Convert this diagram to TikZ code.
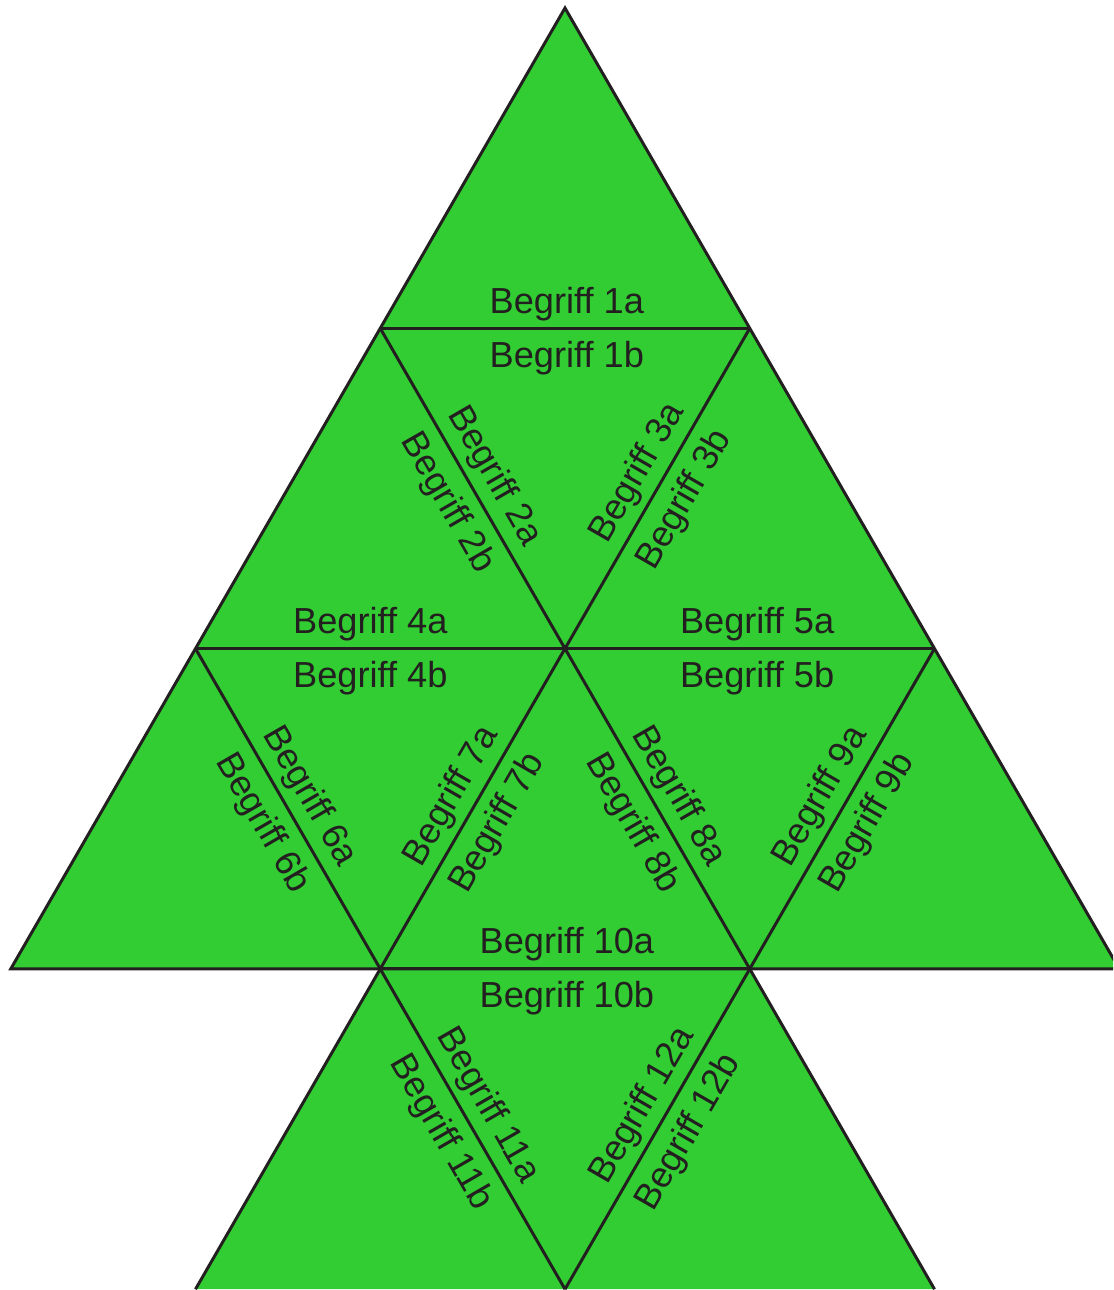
\documentclass[tikz,border=0pt]{standalone}
\usepackage{fontspec}
\setmainfont{Liberation Sans}
\usepackage{xcolor}
\definecolor{treegreen}{RGB}{50,205,50}
\definecolor{inkdark}{RGB}{35,31,32}

\begin{document}
\begin{tikzpicture}[
  edge/.style={draw=inkdark, line width=0.85pt, line join=miter},
  sidelabel/.style={sloped, font=\fontsize{10.3}{12}\selectfont, text=inkdark},
  labela/.style={sidelabel, anchor=south, inner sep=0.06cm},
  labelb/.style={sidelabel, anchor=north, inner sep=0.11cm}
]
  \useasboundingbox (0,0) rectangle (11.13,-12.9);
  \clip (0,0) rectangle (11.13,-12.9);

  % triangle grid corners
  \coordinate (t)   at (5.65,-0.08);
  \coordinate (r1l) at (3.8025,-3.283);
  \coordinate (r1r) at (7.4975,-3.283);
  \coordinate (r2l) at (1.955,-6.486);
  \coordinate (r2m) at (5.65,-6.486);
  \coordinate (r2r) at (9.345,-6.486);
  \coordinate (r3a) at (0.1075,-9.689);
  \coordinate (r3b) at (3.8025,-9.689);
  \coordinate (r3c) at (7.4975,-9.689);
  \coordinate (r3d) at (11.1925,-9.689);
  \coordinate (r4a) at (1.955,-12.892);
  \coordinate (r4b) at (5.65,-12.892);
  \coordinate (r4c) at (9.345,-12.892);

  % filled outline
  \fill[treegreen] (t) -- (r3a) -- (r3d) -- cycle;
  \fill[treegreen] (r3b) -- (r4a) -- (r4c) -- (r3c) -- cycle;
  \draw[edge] (t) -- (r3a) -- (r3d) -- cycle;
  \draw[edge] (r3b) -- (r4a);
  \draw[edge] (r3c) -- (r4c);

  % labelled edges
  \foreach \from/\to/\num/\p in {r1l/r1r/1/0.505, r1l/r2m/2/0.5, r2m/r1r/3/0.51,
      r2l/r2m/4/0.473, r2m/r2r/5/0.52, r2l/r3b/6/0.5, r3b/r2m/7/0.5, r2m/r3c/8/0.5,
      r3c/r2r/9/0.5, r3b/r3c/10/0.505, r3b/r4b/11/0.465, r4b/r3c/12/0.535}{
    \draw[edge] (\from) -- node[labela, pos=\p] (l\num a) {Begriff \num a}
                           node[labelb, pos=\p] (l\num b) {Begriff \num b} (\to);
  }
\end{tikzpicture}
\end{document}
